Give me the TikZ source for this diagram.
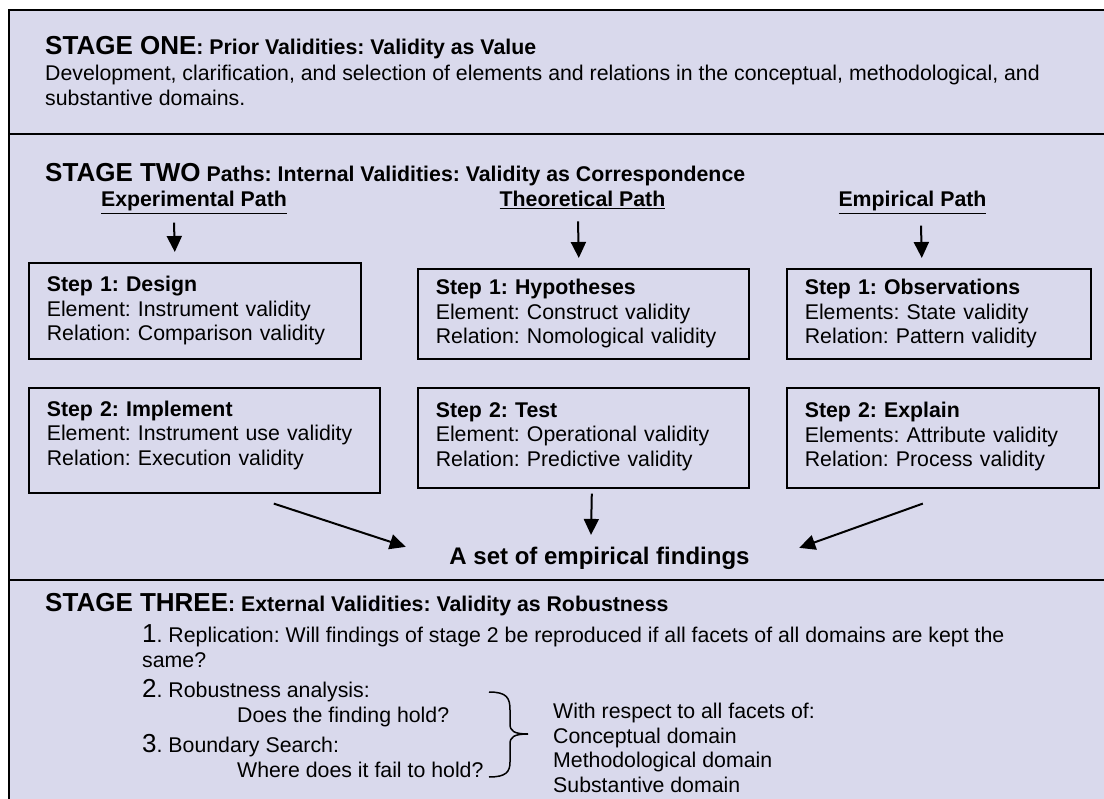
\documentclass[tikz,border=0pt]{standalone}
\usepackage{fontspec}
\setmainfont{Liberation Sans}
\usetikzlibrary{arrows.meta,positioning}
\definecolor{lav}{RGB}{217,217,236}
\newcommand{\headfont}{\fontsize{26}{30}\selectfont\bfseries}
\newcommand{\numfont}{\fontsize{26}{30}\selectfont}
\frenchspacing

\begin{document}
\begin{tikzpicture}[x=1pt,y=-1pt,font=\fontsize{21.3}{24.5}\selectfont,
  txt/.style={inner sep=0pt,anchor=base west,align=left},
  pathlbl/.style={inner sep=0pt,anchor=base,font=\fontsize{21.3}{24.5}\selectfont\bfseries},
  box/.style={draw,line width=1.6pt,anchor=north west,inner xsep=18pt,inner ysep=0pt,align=left},
  arr/.style={-{Triangle[length=16pt,width=15pt]},line width=2pt}]
\useasboundingbox (0,0) rectangle (1104,799);
% frame and stage bands
\fill[lav] (9,10) rectangle (1104,799);
\draw[line width=2pt] (1104,10) -- (9,10) -- (9,799);
\draw[line width=2pt] (9,134) -- (1104,134);
\draw[line width=2pt] (9,580) -- (1104,580);
% stage one
\node[txt] (stageone) at (45,55) {{\headfont STAGE ONE}\textbf{: Prior Validities: Validity as Value}};
\node[txt,font=\fontsize{21.3}{25}\selectfont] (dev) at (45,106) {Development, clarification, and selection of elements and relations in the conceptual, methodological, and\\substantive domains.};
% stage two
\node[txt] (stagetwo) at (45,182) {{\headfont STAGE TWO}\textbf{ Paths: Internal Validities: Validity as Correspondence}};
\node[pathlbl] (expl) at (194,207) {\underline{Experimental Path}};
\node[pathlbl] (theol) at (582.5,207) {\underline{Theoretical Path}};
\node[pathlbl] (empl) at (912.5,207) {\underline{Empirical Path}};
\node[box,text width=296pt,minimum height=96pt] (design) at (28,262) {\textbf{Step 1: Design}\\Element: Instrument validity\\Relation: Comparison validity};
\node[box,text width=295pt,minimum height=90pt] (hypo) at (417,268) {\textbf{Step 1: Hypotheses}\\Element: Construct validity\\Relation: Nomological validity};
\node[box,text width=268pt,minimum height=90pt] (obs) at (786,268) {\textbf{Step 1: Observations}\\Elements: State validity\\Relation: Pattern validity};
\node[box,text width=315pt,minimum height=105pt] (implement) at (28,387) {\textbf{Step 2: Implement}\\Element: Instrument use validity\\Relation: Execution validity\\[-10pt]\mbox{}};
\node[box,text width=295pt,minimum height=100pt] (test) at (417,387) {\textbf{Step 2: Test}\\Element: Operational validity\\Relation: Predictive validity\\[-18pt]\mbox{}};
\node[box,text width=276pt,minimum height=100pt] (explain) at (786,387) {\textbf{Step 2: Explain}\\Elements: Attribute validity\\Relation: Process validity\\[-18pt]\mbox{}};
\node[inner sep=0pt,anchor=base,font=\fontsize{24}{28}\selectfont\bfseries] (findings) at (599.5,565) {A set of empirical findings};
\draw[arr] ([xshift=-20,yshift=-9]expl.south) -- ([xshift=-20,yshift=10]design.north);
\draw[arr] ([xshift=-4.5,yshift=-12]theol.south) -- ([xshift=-4.5,yshift=10]hypo.north);
\draw[arr] ([xshift=8.5,yshift=-12]empl.south) -- ([xshift=-17,yshift=10]obs.north);
\draw[arr] ([xshift=69.5,yshift=-10]implement.south) -- ([xshift=-43.5,yshift=12]findings.west);
\draw[arr] ([xshift=8.5,yshift=-5]test.south) -- ([xshift=-8.5,yshift=12.5]findings.north);
\draw[arr] ([xshift=-20,yshift=-15]explain.south) -- ([xshift=49.5,yshift=11]findings.east);
% stage three
\node[txt] (stagethree) at (45,612) {{\headfont STAGE THREE}\textbf{: External Validities: Validity as Robustness}};
\node[txt,font=\fontsize{21.3}{25}\selectfont] (repl) at (142,667) {{\numfont 1}. Replication: Will findings of stage 2 be reproduced if all facets of all domains are kept the\\same?};
\node[txt,font=\fontsize{21.3}{25}\selectfont] (robust) at (142,722) {{\numfont 2}. Robustness analysis:\\\hspace*{95pt}Does the finding hold?};
\node[txt,font=\fontsize{21.3}{25}\selectfont] (bound) at (142,777) {{\numfont 3}. Boundary Search:\\\hspace*{95pt}Where does it fail to hold?};
\node[txt] (facets) at (553,792) {With respect to all facets of:\\Conceptual domain\\Methodological domain\\Substantive domain};
\coordinate (bracetip) at (528,734);
\draw[line width=1.5pt] (489,692) .. controls (507,692) and (510,698) .. (510,710) -- (510,724)
  .. controls (510,731) and (514,734) .. (bracetip) .. controls (514,734) and (510,737) .. (510,744)
  -- (510,762) .. controls (510,772) and (506,777) .. (489,777);
\end{tikzpicture}
\end{document}
